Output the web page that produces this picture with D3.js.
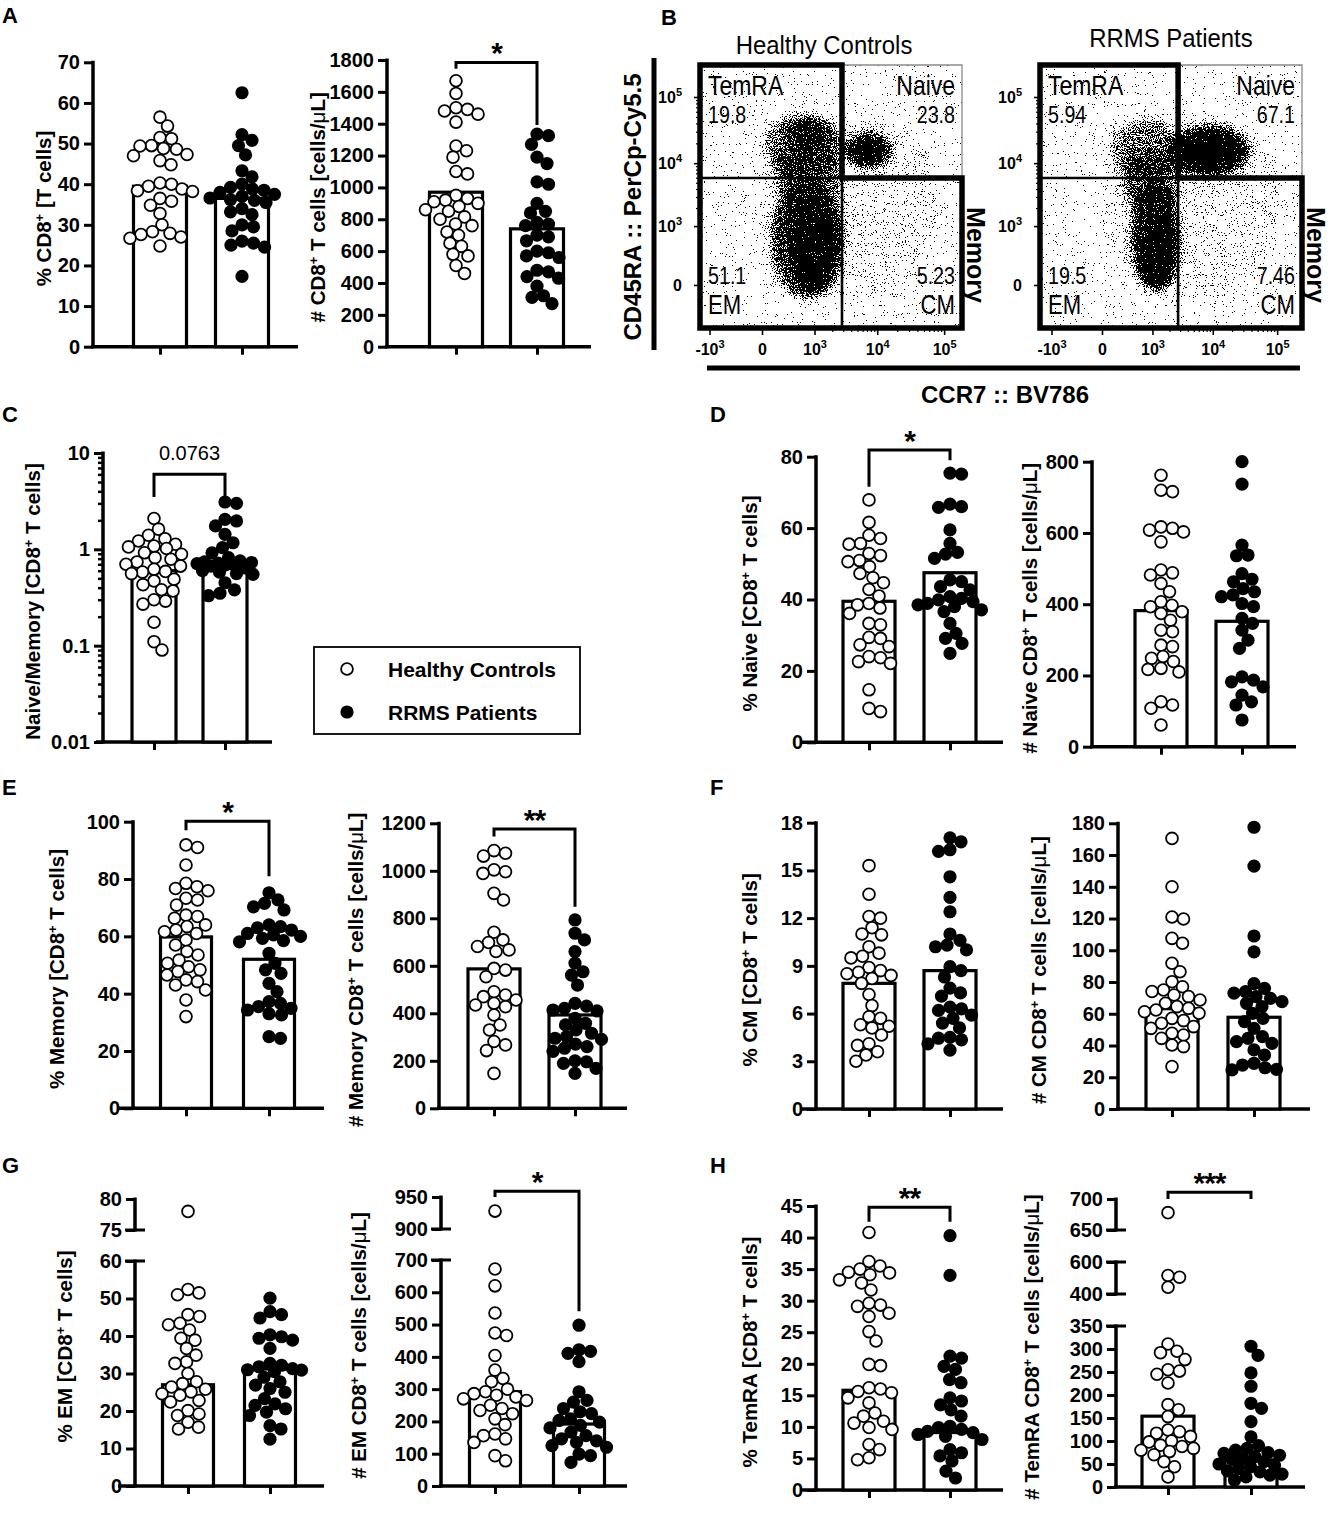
<!DOCTYPE html>
<html>
<head>
<meta charset="utf-8">
<script src="https://cdn.jsdelivr.net/npm/d3@7"></script>
<style>
  body { margin: 0; background: #fff; }
  svg { display: block; }
</style>
</head>
<body>
<svg id="fig" width="1331" height="1515"></svg>
<script>
// ---- data ----
const groups = ["Healthy Controls", "RRMS Patients"];

// A: % CD8+ and # CD8+
const pctCD8HC = [56.5, 54.3, 51.5, 51.2, 49.5, 49.4, 48.8, 48.6, 47.3, 47.0, 45.8, 44.8, 40.3, 40.0, 39.5, 38.8, 38.4, 38.2, 36.5, 35.8, 34.8, 32.8, 30.0, 28.3, 27.9, 27.6, 27.0, 26.7, 24.8];
const pctCD8RR = [62.5, 52.2, 50.8, 49.5, 47.2, 43.3, 41.8, 40.0, 39.2, 38.8, 38.5, 38.0, 37.5, 37.0, 36.6, 36.2, 36.0, 35.5, 34.0, 33.2, 32.5, 30.0, 29.5, 28.5, 26.0, 25.5, 25.0, 24.5, 17.3];
const pctCD8Mean = [39.5, 36.5];
const numCD8HC = [1670, 1590, 1500, 1490, 1480, 1460, 1410, 1260, 1230, 1190, 1100, 1085, 950, 930, 920, 910, 900, 880, 860, 850, 815, 800, 770, 760, 720, 700, 650, 630, 580, 570, 510, 460];
const numCD8RR = [1335, 1325, 1270, 1190, 1150, 1035, 1020, 900, 850, 840, 780, 770, 760, 700, 690, 665, 600, 590, 570, 560, 480, 470, 440, 430, 380, 320, 310, 270];
const numCD8Mean = [970, 740];

// C: naive / memory ratio
const ratioHC = [2.09, 1.62, 1.4, 1.29, 1.22, 1.13, 1.08, 1.06, 1.02, 0.92, 0.89, 0.82, 0.79, 0.74, 0.7, 0.67, 0.62, 0.59, 0.58, 0.56, 0.49, 0.47, 0.43, 0.38, 0.37, 0.3, 0.29, 0.27, 0.175, 0.11, 0.09];
const ratioRR = [3.1, 3.0, 2.05, 1.97, 1.75, 1.43, 1.17, 1.04, 0.92, 0.82, 0.76, 0.74, 0.73, 0.72, 0.71, 0.7, 0.69, 0.67, 0.64, 0.6, 0.58, 0.56, 0.55, 0.45, 0.38, 0.35, 0.33];
const ratioMean = [0.6, 0.68];

// D: naive
const pctNaiveHC = [67.9, 61.6, 58, 57.1, 55.7, 55.5, 52.9, 52.3, 50.9, 50.6, 49.2, 47.3, 46.1, 44.7, 42.8, 41, 38.9, 38.5, 37.6, 36.1, 33.3, 32.9, 29.4, 29.1, 27.3, 26.8, 24, 23.7, 22.6, 22.1, 14.7, 9.5, 8.6];
const pctNaiveRR = [75.4, 75.1, 66.7, 66, 65.8, 59.5, 55.7, 53.2, 52.7, 51.5, 45.5, 45, 43.6, 42.7, 40.8, 40.3, 39.9, 39.4, 38.9, 38.5, 38, 37.1, 36.6, 33.3, 30.5, 29.1, 27.7, 24.9];
const pctNaiveMean = [39.5, 47.5];
const numNaiveHC = [762, 720, 716, 617, 613, 608, 603, 575, 496, 488, 482, 458, 435, 407, 397, 393, 379, 374, 355, 327, 323, 285, 281, 253, 248, 239, 220, 217, 210, 126, 117, 108, 61];
const numNaiveRR = [800, 737, 566, 538, 536, 486, 470, 463, 444, 435, 426, 421, 402, 393, 360, 346, 327, 299, 276, 196, 187, 182, 168, 145, 126, 117, 75];
const numNaiveMean = [382, 352];

// E: memory
const pctMemHC = [91.9, 91, 84.9, 78.5, 77.3, 76.7, 75.9, 73.3, 72.7, 70.9, 67.4, 66.9, 66.3, 64, 63.4, 62.2, 61.6, 61, 58.7, 57, 54.7, 53.5, 51.7, 50.6, 49.4, 48.3, 47.7, 46.5, 44.8, 44.2, 43, 41.3, 37.8, 32];
const pctMemRR = [75.2, 72.7, 71.5, 70.3, 69.2, 64, 63.4, 63, 62.2, 61, 60.5, 60, 59.3, 58.5, 58.1, 54.1, 50.6, 48.3, 47.1, 43.6, 40.7, 37.2, 36.6, 35.5, 34.9, 34.3, 33, 32.6, 25, 24.4];
const pctMemMean = [59.8, 52];
const numMemHC = [1085, 1074, 1062, 1004, 996, 989, 905, 877, 741, 709, 698, 681, 667, 660, 589, 582, 554, 491, 477, 470, 456, 442, 435, 428, 393, 351, 330, 281, 267, 243, 147];
const numMemRR = [793, 737, 709, 660, 611, 575, 561, 519, 442, 430, 421, 414, 410, 379, 358, 351, 330, 316, 302, 295, 290, 270, 260, 253, 240, 200, 196, 189, 168, 147];
const numMemMean = [587, 393];

// F: central memory
const pctCMHC = [15.3, 13.5, 12.1, 12, 11.4, 11, 10.95, 10.2, 9.8, 9.6, 9.5, 8.9, 8.7, 8.6, 8.5, 8.4, 8.2, 7.9, 7.2, 6.5, 5.8, 5.7, 5.3, 5.2, 5.1, 4.65, 4.1, 4.0, 3.6, 3.4, 3.0];
const pctCMRR = [17.05, 16.8, 16.3, 16.2, 14.6, 13.3, 12.4, 11, 10.6, 10.3, 10.2, 10, 8.95, 8.7, 8.3, 7.6, 7.3, 7.1, 6.4, 6.3, 6.2, 5.9, 5.7, 5.4, 5.1, 4.5, 4.45, 4.35, 4.1, 3.7];
const pctCMMean = [7.9, 8.7];
const numCMHC = [170.5, 140, 121, 119.7, 107.5, 104.4, 91.8, 86.5, 80.2, 77, 75, 74, 71.8, 70.8, 68.7, 66.6, 64.5, 63.4, 62.4, 61.3, 60.3, 57.1, 55.7, 54, 51.9, 50.8, 47.7, 46.6, 44.5, 40.3, 39.3, 26.7];
const numCMRR = [177.5, 153, 109, 99, 79, 76, 74, 73, 70.8, 69.7, 67.6, 66.6, 64.5, 60.3, 57.1, 55, 50.8, 45.6, 44.5, 42.4, 41.4, 37.2, 34, 28.8, 27.7, 26, 25, 24.6];
const numCMMean = [63.2, 57.8];

// G: effector memory
const pctEMHC = [78, 52.4, 51.5, 51, 45.7, 45.2, 43.4, 43, 41.6, 39.4, 38.9, 36.7, 34.9, 33.1, 32.7, 30, 27.8, 27.3, 26.4, 25.8, 25.1, 24.6, 24.2, 22.8, 22.4, 20.1, 19.2, 18.8, 17, 15.7, 15.2];
const pctEMRR = [50.1, 46.5, 45.7, 44.8, 40.3, 39.8, 39.4, 38.9, 36.7, 32.7, 32.2, 31.8, 31.3, 31, 30.9, 30.5, 29, 27.8, 26.9, 26, 25, 23.3, 21.9, 21.5, 20.6, 19.7, 18.8, 16.1, 15.2, 12.5];
const pctEMMean = [27, 31.2];
const numEMHC = [928, 672, 620, 536, 474, 466, 404, 359, 333, 323, 300, 292, 286, 281, 276, 270, 265, 250, 240, 234, 224, 208, 190, 161, 156, 146, 135, 94, 78];
const numEMRR = [498, 422, 417, 411, 385, 292, 265, 260, 240, 230, 224, 208, 203, 198, 188, 180, 167, 156, 146, 140, 135, 125, 120, 99, 94, 73];
const numEMMean = [292, 192];

// H: TemRA
const pctTemraHC = [40.8, 36.2, 35.5, 35, 34.5, 34.4, 34.1, 33.3, 32.8, 31.7, 29.6, 29.3, 29.1, 28, 27.5, 25.1, 23.6, 19.9, 19.7, 16.2, 16, 15.6, 15.4, 14.6, 13.8, 12.2, 11.7, 10.9, 10.6, 9.9, 9.6, 7.2, 6.4, 5.1, 4.8];
const pctTemraRR = [40.3, 34, 21.2, 20.9, 19.6, 19.1, 17.5, 17, 14.6, 14.1, 13.5, 12.7, 11.7, 10.1, 9.9, 9.6, 9.3, 9.1, 8.8, 8.5, 8, 6.4, 5.9, 5.4, 4.6, 3, 1.9];
const pctTemraMean = [15.8, 9.1];
const numTemraHC = [678, 516, 505, 442, 311, 295, 292, 277, 255, 252, 245, 226, 179, 168, 153, 124, 120, 117, 110, 100, 98, 91, 88, 84, 80, 77, 70, 55, 44, 22];
const numTemraRR = [306, 286, 248, 219, 182, 171, 142, 109, 90, 84, 80, 75, 73, 69, 66, 62, 60, 55, 50, 47, 44, 40, 35, 33, 28, 26, 22, 15];
const numTemraMean = [154, 59];

// tick labels
const ticksPctCD8 = d3.range(0, 71, 10);
const ticksNumCD8 = d3.range(0, 1801, 200);
const ticksRatio = [0.01, 0.1, 1, 10];
const ticksPctNaive = d3.range(0, 81, 20);
const ticksNumNaive = d3.range(0, 801, 200);
const ticksPctMem = d3.range(0, 101, 20);
const ticksNumMem = d3.range(0, 1201, 200);
const ticksPctCM = d3.range(0, 19, 3);
const ticksNumCM = d3.range(0, 181, 20);
const ticksPctEM = [d3.range(0, 61, 10), [75, 80]];
const ticksNumEM = [d3.range(0, 701, 100), [900, 950]];
const ticksPctTemra = d3.range(0, 46, 5);
const ticksNumTemra = [d3.range(0, 351, 50), [400, 600], [650, 700]];

// B: flow cytometry gates (quadrant frequencies) and cell clouds
const quadNames = ["TemRA", "Naive", "EM", "CM"];
const hcQuad = [19.8, 23.8, 51.1, 5.23];
const rrQuad = [5.94, 67.1, 19.5, 7.46];
const flowTicksX = [-1000, 0, 1000, 10000, 100000];
const flowTicksY = [0, 1000, 10000, 100000];
const hcGate = [2866, 5930];   // CCR7, CD45RA thresholds
const rrGate = [2780, 5930];
// cloud: [CCR7 low, CCR7 high, CD45RA low, CD45RA high, density]
const hcClouds = [
  [0, 90000, -100, 60000, 0.11],
  [60, 3200, -100, 5500, 0.7],
  [320, 2480, -30, 2700, 0.97],
  [100, 3000, 1500, 20000, 0.5],
  [10, 3200, 5500, 57600, 0.55],
  [240, 1840, 15850, 48400, 0.6],
  [3200, 17000, 8000, 30000, 0.75],
  [3800, 14000, 10000, 25000, 1]
];
const rrClouds = [
  [0, 120000, -100, 60000, 0.11],
  [66, 3020, 5500, 48400, 0.5],
  [200, 3000, 1500, 15000, 0.5],
  [340, 3020, -40, 5500, 0.8],
  [575, 2780, -30, 1270, 0.95],
  [1800, 40000, 6000, 38000, 0.8],
  [2300, 26000, 7500, 30000, 1]
];

// ---- drawing ----
const FONT = '"Liberation Sans", Arial, Helvetica, sans-serif';
const svg = d3.select("#fig");

function richText(t, str, supSize, supDy) {
  let pend = 0;
  str.split(/(\^\+|μ)/).filter(s => s).forEach(s => {
    const sp = t.append("tspan");
    if (s === "^+") {
      sp.attr("dy", pend - supDy).attr("font-size", supSize).text("+");
      pend = supDy;
    } else {
      if (pend) sp.attr("dy", pend);
      pend = 0;
      if (s === "μ") sp.attr("font-weight", "normal").text("μ");
      else sp.text(s);
    }
  });
}

// beeswarm placement, with a cap on the sideways spread
function swarm(vals, y, cx, minD, maxOff) {
  const pts = vals.map(v => ({ v, y: y(v) })).sort((a, b) => a.y - b.y);
  const placed = [];
  pts.forEach(p => {
    let best = cx, bestD = -1;
    for (let k = 0; ; k++) {
      const off = k === 0 ? 0 : (k % 2 ? 1 : -1) * Math.ceil(k / 2) * 0.5;
      if (Math.abs(off) > maxOff) break;
      const x = cx + off;
      const dmin = placed.length ? d3.min(placed, q => Math.hypot(q.x - x, q.y - p.y)) : Infinity;
      if (dmin >= minD) { best = x; break; }
      if (dmin > bestD) { bestD = dmin; best = x; }
    }
    p.x = best;
    placed.push(p);
  });
  return placed;
}

function barPlot(p) {
  const g = svg.append("g");
  const y = p.scale;
  const base = y.domain()[0];
  const y0 = y(base);
  const xs = d3.scalePoint().domain(groups).range([p.hcX, p.rrX]);

  // y axis segments
  p.segments.forEach((seg, i) => {
    const ax = g.append("g")
      .attr("transform", `translate(${p.axisX},0)`)
      .call(d3.axisLeft(y).tickValues(seg).tickSize(9).tickPadding(4)
        .tickFormat(d3.format("~g")));
    ax.select(".domain").remove();
    ax.selectAll("line").attr("stroke-width", 3);
    ax.selectAll("text").attr("font-size", 20).attr("font-weight", "bold")
      .attr("font-family", FONT).attr("fill", "#000");
    const lo = y(seg[0]), hi = y(seg[seg.length - 1]);
    g.append("line").attr("x1", p.axisX).attr("x2", p.axisX)
      .attr("y1", lo + 1.5).attr("y2", hi - 1.5)
      .attr("stroke", "#000").attr("stroke-width", 3.5);
    if (i > 0) g.append("line").attr("x1", p.axisX - 10).attr("x2", p.axisX + 10)
      .attr("y1", lo).attr("y2", lo).attr("stroke", "#000").attr("stroke-width", 3);
    if (i < p.segments.length - 1) g.append("line").attr("x1", p.axisX - 10).attr("x2", p.axisX + 10)
      .attr("y1", hi).attr("y2", hi).attr("stroke", "#000").attr("stroke-width", 3);
  });
  if (p.minor) {
    g.append("g").attr("transform", `translate(${p.axisX},0)`)
      .call(d3.axisLeft(y).tickValues(p.minor).tickSize(5).tickFormat(""))
      .call(a => a.select(".domain").remove())
      .selectAll("line").attr("stroke-width", 2.5);
  }

  // x axis
  const xa = g.append("g").attr("transform", `translate(0,${y0})`)
    .call(d3.axisBottom(xs).tickSize(8).tickFormat(""));
  xa.select(".domain").remove();
  xa.selectAll("line").attr("stroke-width", 3);
  g.append("line").attr("x1", p.xStart).attr("x2", p.xEnd).attr("y1", y0).attr("y2", y0)
    .attr("stroke", "#000").attr("stroke-width", 3.5);

  // bars
  g.selectAll("rect.bar").data(p.means).join("rect")
    .attr("x", (d, i) => xs(groups[i]) - p.barW / 2)
    .attr("width", p.barW)
    .attr("y", d => y(d))
    .attr("height", d => y0 - y(d))
    .attr("fill", "#fff").attr("stroke", "#000").attr("stroke-width", 3.2);

  // points
  const spread = p.barW / 2 + 6;
  const hc = swarm(p.hc, y, xs(groups[0]), 11.5, spread);
  const rr = swarm(p.rr, y, xs(groups[1]), 11.5, spread);
  g.selectAll("circle.hc").data(hc).join("circle")
    .attr("cx", d => d.x).attr("cy", d => d.y).attr("r", 5.9)
    .attr("fill", "#fff").attr("stroke", "#000").attr("stroke-width", 1.8);
  g.selectAll("circle.rr").data(rr).join("circle")
    .attr("cx", d => d.x).attr("cy", d => d.y).attr("r", 6.6).attr("fill", "#000");

  // y label
  const ys = p.segments.flat();
  const mid = (y(ys[0]) + y(ys[ys.length - 1])) / 2 + 4;
  const t = g.append("text")
    .attr("transform", `translate(${p.labelX},${mid}) rotate(-90)`)
    .attr("text-anchor", "middle").attr("dy", "0.35em")
    .attr("font-family", FONT).attr("font-weight", "bold").attr("font-size", 20.5);
  richText(t, p.label, 13, 7);

  // significance bracket
  if (p.sig) {
    const [top, legL, legR, txt] = p.sig;
    const xl = xs(groups[0]), xr = xs(groups[1]);
    g.append("path")
      .attr("d", `M${xl},${y(legL)}V${y(top)}H${xr}V${y(legR)}`)
      .attr("fill", "none").attr("stroke", "#000").attr("stroke-width", 3);
    const star = txt.startsWith("*");
    g.append("text").attr("x", (xl + xr) / 2)
      .attr("y", star ? y(top) + 1 : y(top) - 14)
      .attr("text-anchor", "middle").attr("font-family", FONT)
      .attr("font-weight", star ? "bold" : "normal")
      .attr("font-size", star ? 30 : 20)
      .attr("letter-spacing", star ? -1 : 0)
      .text(txt);
  }
}

const lin = (top, y0, y1) => d3.scaleLinear().domain([0, top]).range([y0, y1]);

// A
barPlot({ scale: lin(70, 346.7, 62.3), segments: [ticksPctCD8], axisX: 93, xStart: 91, xEnd: 298,
  hcX: 160, rrX: 242, barW: 53, labelX: 44, label: "% CD8^+ [T cells]",
  hc: pctCD8HC, rr: pctCD8RR, means: pctCD8Mean });
barPlot({ scale: lin(1800, 346.7, 60), segments: [ticksNumCD8], axisX: 387, xStart: 385, xEnd: 591,
  hcX: 456, rrX: 537, barW: 53, labelX: 318, label: "# CD8^+ T cells [cells/μL]",
  hc: numCD8HC, rr: numCD8RR, means: numCD8Mean, sig: [1785, 1745, 1392, "*"] });

// C
const minorLog = [];
[0.01, 0.1, 1].forEach(dec => d3.range(2, 10).forEach(m => minorLog.push(+(m * dec).toPrecision(3))));
barPlot({ scale: d3.scaleLog().domain([0.01, 10]).range([742, 453]), segments: [ticksRatio], minor: minorLog,
  axisX: 103, xStart: 96, xEnd: 272, hcX: 154, rrX: 225, barW: 44, labelX: 33,
  label: "Naive/Memory [CD8^+ T cells]", hc: ratioHC, rr: ratioRR, means: ratioMean,
  sig: [6.0, 3.5, 3.5, "0.0763"] });

// D
barPlot({ scale: lin(80, 742.3, 456.7), segments: [ticksPctNaive], axisX: 816, xStart: 801, xEnd: 1003,
  hcX: 869, rrX: 950, barW: 52, labelX: 750, label: "% Naive [CD8^+ T cells]",
  hc: pctNaiveHC, rr: pctNaiveRR, means: pctNaiveMean, sig: [81.9, 71.6, 79, "*"] });
barPlot({ scale: lin(800, 746.7, 461.7), segments: [ticksNumNaive], axisX: 1092, xStart: 1090, xEnd: 1296,
  hcX: 1161, rrX: 1242, barW: 52, labelX: 1030, label: "# Naive CD8^+ T cells [cells/μL]",
  hc: numNaiveHC, rr: numNaiveRR, means: numNaiveMean });

// E
barPlot({ scale: lin(100, 1108.3, 821.7), segments: [ticksPctMem], axisX: 133, xStart: 118, xEnd: 324,
  hcX: 186, rrX: 269, barW: 51, labelX: 57, label: "% Memory [CD8^+ T cells]",
  hc: pctMemHC, rr: pctMemRR, means: pctMemMean, sig: [100.2, 97, 81, "*"] });
barPlot({ scale: lin(1200, 1108.3, 823.3), segments: [ticksNumMem], axisX: 439, xStart: 437, xEnd: 627,
  hcX: 494, rrX: 575, barW: 52, labelX: 356, label: "# Memory CD8^+ T cells [cells/μL]",
  hc: numMemHC, rr: numMemRR, means: numMemMean, sig: [1176, 1144, 849, "**"] });

// F
barPlot({ scale: lin(18, 1109, 822.7), segments: [ticksPctCM], axisX: 816, xStart: 801, xEnd: 1003,
  hcX: 869, rrX: 950, barW: 52, labelX: 750, label: "% CM [CD8^+ T cells]",
  hc: pctCMHC, rr: pctCMRR, means: pctCMMean });
barPlot({ scale: lin(180, 1109, 823.3), segments: [ticksNumCM], axisX: 1118, xStart: 1116, xEnd: 1310,
  hcX: 1172, rrX: 1254, barW: 52, labelX: 1039, label: "# CM CD8^+ T cells [cells/μL]",
  hc: numCMHC, rr: numCMRR, means: numCMMean });

// G (broken axes)
barPlot({ scale: d3.scaleLinear().domain([0, 60, 75, 80]).range([1486, 1261, 1230, 1199]),
  segments: ticksPctEM, axisX: 135, xStart: 118, xEnd: 324, hcX: 188, rrX: 270, barW: 51, labelX: 65,
  label: "% EM [CD8^+ T cells]", hc: pctEMHC, rr: pctEMRR, means: pctEMMean });
barPlot({ scale: d3.scaleLinear().domain([0, 700, 900, 950]).range([1486, 1260, 1229, 1197]),
  segments: ticksNumEM, axisX: 441, xStart: 439, xEnd: 627, hcX: 495, rrX: 579, barW: 51, labelX: 359,
  label: "# EM CD8^+ T cells [cells/μL]", hc: numEMHC, rr: numEMRR, means: numEMMean,
  sig: [959, 950, 541, "*"] });

// H
barPlot({ scale: lin(45, 1490, 1206), segments: [ticksPctTemra], axisX: 816, xStart: 801, xEnd: 1003,
  hcX: 869, rrX: 950, barW: 52, labelX: 750, label: "% TemRA [CD8^+ T cells]",
  hc: pctTemraHC, rr: pctTemraRR, means: pctTemraMean, sig: [44.8, 42.5, 42.5, "**"] });
barPlot({ scale: d3.scaleLinear().domain([0, 350, 400, 600, 650, 700]).range([1487, 1326, 1294, 1262, 1230, 1199]),
  segments: ticksNumTemra, axisX: 1116, xStart: 1114, xEnd: 1305, hcX: 1168, rrX: 1251, barW: 52, labelX: 1032,
  label: "# TemRA CD8^+ T cells [cells/μL]", hc: numTemraHC, rr: numTemraRR, means: numTemraMean,
  sig: [711, 700, 700, "***"] });

// ---- B: flow plots ----
const defs = svg.append("defs");
const filt = defs.append("filter").attr("id", "speckle")
  .attr("filterUnits", "userSpaceOnUse").attr("x", 0).attr("y", 0).attr("width", 1331).attr("height", 400)
  .attr("color-interpolation-filters", "sRGB");
filt.append("feGaussianBlur").attr("in", "SourceAlpha").attr("stdDeviation", 5).attr("result", "dens");
filt.append("feTurbulence").attr("type", "fractalNoise").attr("baseFrequency", 0.9)
  .attr("numOctaves", 2).attr("seed", 7).attr("result", "noise");
filt.append("feColorMatrix").attr("in", "noise").attr("type", "matrix")
  .attr("values", "0 0 0 0 0  0 0 0 0 0  0 0 0 0 0  2.2 0 0 0 -0.6").attr("result", "n");
filt.append("feComposite").attr("in", "dens").attr("in2", "n").attr("operator", "arithmetic")
  .attr("k1", 0).attr("k2", 1).attr("k3", -1).attr("k4", 0.5).attr("result", "c");
filt.append("feComponentTransfer").attr("in", "c").attr("result", "m")
  .append("feFuncA").attr("type", "discrete").attr("tableValues", "0 1");
filt.append("feFlood").attr("flood-color", "#000").attr("result", "blk");
filt.append("feComposite").attr("in", "blk").attr("in2", "m").attr("operator", "in");

function supLabel(sel, d) {
  sel.text(null);
  if (d === 0) { sel.text("0"); return; }
  sel.append("tspan").text((d < 0 ? "-" : "") + "10");
  sel.append("tspan").attr("dy", -7).attr("font-size", 11).text(Math.round(Math.log10(Math.abs(d))));
}

function flowPlot(o) {
  const [fx0, fy0, fx1, fy1] = o.frame;
  const xs = d3.scaleSymlog().constant(200).domain(o.xDomain).range([fx0, fx1]);
  const ys = d3.scaleSymlog().constant(150).domain([-515, 303000]).range([fy1, fy0]);
  const g = svg.append("g");
  const clipId = "clip" + o.id;
  defs.append("clipPath").attr("id", clipId).append("rect")
    .attr("x", fx0).attr("y", fy0).attr("width", fx1 - fx0).attr("height", fy1 - fy0);
  g.append("g").attr("clip-path", `url(#${clipId})`)
    .append("g").attr("filter", "url(#speckle)")
    .selectAll("ellipse").data(o.clouds).join("ellipse")
    .attr("cx", d => (xs(d[0]) + xs(d[1])) / 2)
    .attr("cy", d => (ys(d[2]) + ys(d[3])) / 2)
    .attr("rx", d => Math.abs(xs(d[1]) - xs(d[0])) / 2)
    .attr("ry", d => Math.abs(ys(d[3]) - ys(d[2])) / 2)
    .attr("fill", "#000").attr("fill-opacity", d => d[4]);

  const minorX = [], minorY = [];
  [1000, 10000].forEach(dec => d3.range(2, 10).forEach(m => { minorX.push(m * dec); minorY.push(m * dec); }));
  const xa = g.append("g").attr("transform", `translate(0,${fy1})`)
    .call(d3.axisBottom(xs).tickValues(flowTicksX).tickSize(7).tickPadding(9));
  xa.select(".domain").remove();
  xa.selectAll("line").attr("stroke-width", 1.6);
  xa.selectAll("text").attr("font-size", 16).attr("font-weight", "bold").attr("font-family", FONT)
    .attr("fill", "#000").each(function (d) { supLabel(d3.select(this), d); });
  g.append("g").attr("transform", `translate(0,${fy1})`)
    .call(d3.axisBottom(xs).tickValues(minorX).tickSize(4).tickFormat(""))
    .call(a => a.select(".domain").remove()).selectAll("line").attr("stroke-width", 1.2);
  const ya = g.append("g").attr("transform", `translate(${fx0},0)`)
    .call(d3.axisLeft(ys).tickValues(flowTicksY).tickSize(6).tickPadding(12));
  ya.select(".domain").remove();
  ya.selectAll("line").attr("stroke-width", 1.6);
  ya.selectAll("text").attr("font-size", 16).attr("font-weight", "bold").attr("font-family", FONT)
    .attr("fill", "#000").each(function (d) { supLabel(d3.select(this), d); });
  g.append("g").attr("transform", `translate(${fx0},0)`)
    .call(d3.axisLeft(ys).tickValues(minorY).tickSize(4).tickFormat(""))
    .call(a => a.select(".domain").remove()).selectAll("line").attr("stroke-width", 1.2);

  // gates
  const gx = xs(o.gate[0]), gy = ys(o.gate[1]);
  g.append("path").attr("d", `M${gx},${fy0}H${fx1}V${gy}`)
    .attr("fill", "none").attr("stroke", "#8a8a8a").attr("stroke-width", 1.3);
  g.append("path").attr("d", `M${fx0},${gy}H${gx}M${gx},${gy}V${fy1}`)
    .attr("fill", "none").attr("stroke", "#000").attr("stroke-width", 2.6);
  g.append("path").attr("d", `M${fx0},${gy}V${fy0}H${gx}V${gy}`)
    .attr("fill", "none").attr("stroke", "#000").attr("stroke-width", 5.5).attr("stroke-linejoin", "miter");
  g.append("path").attr("d", `M${gx - 2.7},${gy}H${fx1}V${fy1}H${fx0}V${gy}`)
    .attr("fill", "none").attr("stroke", "#000").attr("stroke-width", 5.5).attr("stroke-linejoin", "miter");

  // quadrant text, condensed horizontally like the original lettering
  const L = fx0 + 8, R = fx1 - 7;
  const qt = (x, yy, anchor, txt, size) => g.append("text")
    .attr("transform", `translate(${x},${yy}) scale(0.82,1)`)
    .attr("text-anchor", anchor).attr("font-family", FONT).attr("font-size", size).text(txt);
  qt(L, fy0 + 30, "start", quadNames[0], 28);
  qt(L, fy0 + 58, "start", o.quad[0], 24);
  qt(R, fy0 + 30, "end", quadNames[1], 28);
  qt(R, fy0 + 58, "end", o.quad[1], 24);
  qt(L, fy1 - 44, "start", o.quad[2], 24);
  qt(L, fy1 - 14, "start", quadNames[2], 27);
  qt(R, fy1 - 44, "end", o.quad[3], 24);
  qt(R, fy1 - 14, "end", quadNames[3], 27);

  g.append("text").attr("transform", `translate(${o.titleX},${o.titleY}) scale(0.92,1)`)
    .attr("text-anchor", "middle").attr("font-family", FONT).attr("font-size", 26).text(o.title);
  g.append("text").attr("transform", `translate(${fx1 + 14},${(gy + fy1) / 2 + 2}) rotate(90)`)
    .attr("text-anchor", "middle").attr("dy", "0.35em")
    .attr("font-family", FONT).attr("font-weight", "bold").attr("font-size", 25).text("Memory");
}

flowPlot({ id: "hc", frame: [700, 65, 962, 328], xDomain: [-1460, 184000], clouds: hcClouds,
  gate: hcGate, quad: hcQuad, title: groups[0], titleX: 824, titleY: 54 });
flowPlot({ id: "rr", frame: [1040, 65, 1302, 328], xDomain: [-1606, 242000], clouds: rrClouds,
  gate: rrGate, quad: rrQuad, title: groups[1], titleX: 1171, titleY: 47 });

// shared flow axis titles
svg.append("line").attr("x1", 654).attr("x2", 654).attr("y1", 58).attr("y2", 350)
  .attr("stroke", "#000").attr("stroke-width", 5);
svg.append("text").attr("transform", "translate(633,207) rotate(-90)").attr("text-anchor", "middle")
  .attr("dy", "0.35em").attr("font-family", FONT).attr("font-weight", "bold").attr("font-size", 24)
  .text("CD45RA :: PerCp-Cy5.5");
svg.append("line").attr("x1", 707).attr("x2", 1300).attr("y1", 368).attr("y2", 368)
  .attr("stroke", "#000").attr("stroke-width", 5);
svg.append("text").attr("x", 1005).attr("y", 403).attr("text-anchor", "middle")
  .attr("font-family", FONT).attr("font-weight", "bold").attr("font-size", 24).text("CCR7 :: BV786");

// legend
const lg = svg.append("g");
lg.append("rect").attr("x", 314).attr("y", 647).attr("width", 266).attr("height", 87)
  .attr("fill", "#fff").attr("stroke", "#000").attr("stroke-width", 1.8);
lg.selectAll("circle").data(groups).join("circle")
  .attr("cx", 347).attr("cy", (d, i) => 669 + i * 43).attr("r", (d, i) => i ? 6.6 : 5.9)
  .attr("fill", (d, i) => i ? "#000" : "#fff").attr("stroke", "#000").attr("stroke-width", (d, i) => i ? 0 : 1.8);
lg.selectAll("text").data(groups).join("text")
  .attr("x", 388).attr("y", (d, i) => 677 + i * 43)
  .attr("font-family", FONT).attr("font-weight", "bold").attr("font-size", 21).text(d => d);

// panel letters
const panelLetters = [["A", 2, 23], ["B", 661, 25], ["C", 2, 422], ["D", 710, 422],
  ["E", 2, 795], ["F", 710, 795], ["G", 2, 1173], ["H", 710, 1173]];
svg.selectAll("text.letter").data(panelLetters).join("text").attr("class", "letter")
  .attr("x", d => d[1]).attr("y", d => d[2])
  .attr("font-family", FONT).attr("font-weight", "bold").attr("font-size", 22).text(d => d[0]);
</script>
</body>
</html>
